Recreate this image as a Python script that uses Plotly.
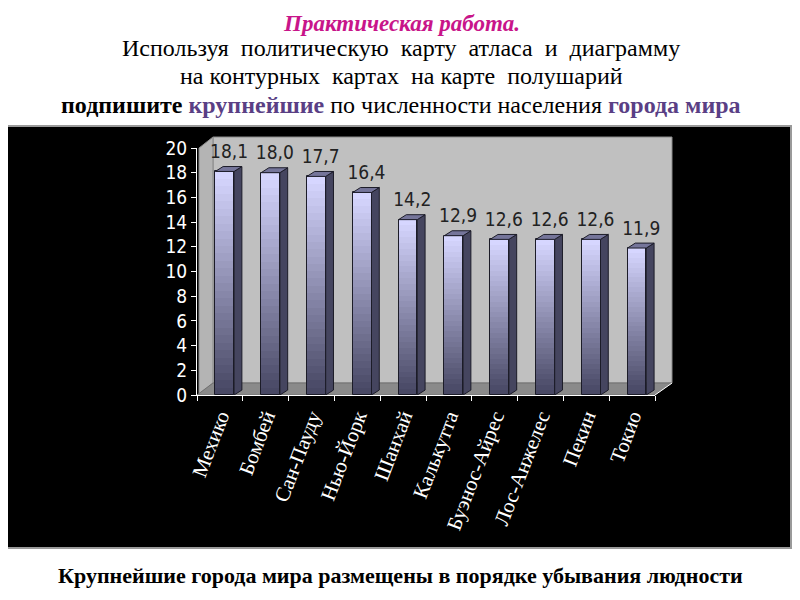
import plotly.graph_objects as go

cities = ["Мехико", "Бомбей", "Сан-Пауду", "Нью-Йорк", "Шанхай",
          "Калькутта", "Буэнос-Айрес", "Лос-Анжелес", "Пекин", "Токио"]
population = [18.1, 18.0, 17.7, 16.4, 14.2, 12.9, 12.6, 12.6, 12.6, 11.9]
y_ticks = list(range(0, 21, 2))

# The page body has an 8px margin, so the figure is drawn 8px smaller and
# reference pixel positions are shifted by that amount.
SH = 8
W, H = 800 - SH, 600 - SH
PL, PR, PT, PB = 197, 655, 148, 395   # plot area in reference px
def px(x, y):
    return (x - PL) / (PR - PL), (PB - y) / (PB - PT)

xs = list(range(len(cities)))
FONT_NARROW = "Liberation Sans Narrow, DejaVu Sans Condensed, Arial Narrow, sans-serif"
FONT_SERIF = "Liberation Serif, Times New Roman, serif"

fig = go.Figure()

# front faces with vertical gradient (overlayed bars of decreasing height)
N = 30
top_c = (214, 214, 255)
bot_c = (72, 72, 100)
OFF, BW = -0.1, 0.41
for k in range(N):
    frac = (N - k) / N
    t = k / (N - 1)
    c = tuple(int(top_c[j] + (bot_c[j] - top_c[j]) * t) for j in range(3))
    fig.add_trace(go.Bar(
        x=xs, y=[v * frac for v in population], offset=OFF, width=BW,
        marker=dict(color="rgb(%d,%d,%d)" % c, line=dict(width=0)),
        hoverinfo="skip", showlegend=False))
# outline of front faces
fig.add_trace(go.Bar(
    x=xs, y=population, offset=OFF, width=BW,
    marker=dict(color="rgba(0,0,0,0)", line=dict(color="#1c1c28", width=1)),
    hoverinfo="skip", showlegend=False))

DX, DY = 0.17, 0.4
# side faces
sx, sy = [], []
for i, v in zip(xs, population):
    x0 = i + OFF + BW
    sx += [x0, x0, x0 + DX, x0 + DX, x0, None]
    sy += [0, v, v + DY, DY, 0, None]
fig.add_trace(go.Scatter(x=sx, y=sy, mode="lines", fill="toself",
                         fillcolor="#45455f", line=dict(color="#1c1c28", width=1),
                         hoverinfo="skip", showlegend=False))
# top faces
tx, ty = [], []
for i, v in zip(xs, population):
    x0 = i + OFF
    x1 = x0 + BW
    tx += [x0, x1, x1 + DX, x0 + DX, x0, None]
    ty += [v, v, v + DY, v + DY, v, None]
fig.add_trace(go.Scatter(x=tx, y=ty, mode="lines", fill="toself",
                         fillcolor="#75759a", line=dict(color="#1c1c28", width=1),
                         hoverinfo="skip", showlegend=False))
# value labels
fig.add_trace(go.Scatter(
    x=[i + 0.2 for i in xs], y=[v + DY + 0.3 for v in population], mode="text",
    text=[("%.1f" % v).replace(".", ",") for v in population],
    textposition="top center", cliponaxis=False,
    textfont=dict(family=FONT_NARROW, size=19, color="#222222"),
    hoverinfo="skip", showlegend=False))

# ---- decorative background (black panel, walls, floor) ----
shapes = []
x0, y0 = px(7, 126); x1, y1 = px(791, 548)
shapes.append(dict(type="rect", xref="paper", yref="paper", x0=x0, y0=y0, x1=x1, y1=y1,
                   fillcolor="black", line=dict(color="#9a9a9a", width=2), layer="below"))
def path(points):
    pts = [px(*p) for p in points]
    return "M " + " L ".join("%f,%f" % p for p in pts) + " Z"
# back wall
shapes.append(dict(type="path", xref="paper", yref="paper",
                   path=path([(213, 137), (672, 137), (672, 383), (213, 383)]),
                   fillcolor="#c0c0c0", line=dict(color="#8a8a8a", width=1), layer="below"))
# side wall
shapes.append(dict(type="path", xref="paper", yref="paper",
                   path=path([(199, 148), (213, 137), (213, 383), (199, 395)]),
                   fillcolor="#b4b4b4", line=dict(color="#8a8a8a", width=1), layer="below"))
# floor
shapes.append(dict(type="path", xref="paper", yref="paper",
                   path=path([(197, 395), (655, 395), (672, 383), (213, 383)]),
                   fillcolor="#8a8a8a", line=dict(color="#707070", width=1), layer="below"))
# floor right edge
a = px(655, 395); b = px(672, 383)
shapes.append(dict(type="line", xref="paper", yref="paper", x0=a[0], y0=a[1], x1=b[0], y1=b[1],
                   line=dict(color="white", width=1)))

# ---- texts ----
ann = []
def add_text(text, x, y, size, color="black"):
    xp, yp = px(x, y)
    ann.append(dict(text=text, xref="paper", yref="paper", x=xp, y=yp,
                    xanchor="center", yanchor="middle", showarrow=False,
                    font=dict(family=FONT_SERIF, size=size, color=color)))
add_text("<b><i>Практическая работа.</i></b>", 401, 24, 23, "#c8158a")
add_text("Используя  политическую  карту  атласа  и  диаграмму", 401, 48, 24)
add_text("на контурных  картах  на карте  полушарий", 401, 76, 24)
add_text("<b>подпишите</b> <b><span style='color:#5a3f85'>крупнейшие</span></b> по численности населения "
         "<b><span style='color:#5a3f85'>города мира</span></b>", 401, 105, 24)
add_text("<b>Крупнейшие города мира размещены в порядке убывания людности</b>", 400, 575, 22)

fig.update_layout(
    width=W, height=H,
    margin=dict(l=PL - SH, r=W - (PR - SH), t=PT - SH, b=H - (PB - SH), pad=0),
    paper_bgcolor="white", plot_bgcolor="rgba(0,0,0,0)",
    barmode="overlay", bargap=0,
    shapes=shapes, annotations=ann,
    xaxis=dict(range=[-0.5, len(cities) - 0.5], tickmode="array", tickvals=xs, ticktext=cities,
               tickangle=-69, ticks="", showgrid=False, zeroline=False,
               showline=True, linecolor="white", linewidth=1,
               tickfont=dict(family=FONT_SERIF, size=21, color="white"),
               minor=dict(tickmode="array", tickvals=[i - 0.5 for i in range(len(cities) + 1)],
                          ticks="outside", ticklen=5, tickcolor="white", tickwidth=1, showgrid=False)),
    yaxis=dict(range=[0, 20], tickmode="array", tickvals=y_ticks, ticks="outside", ticklen=5,
               tickcolor="white", showgrid=False, zeroline=False, showline=True,
               linecolor="white", linewidth=1,
               tickfont=dict(family=FONT_NARROW, size=19, color="white")),
)

fig.write_html("out.html")
